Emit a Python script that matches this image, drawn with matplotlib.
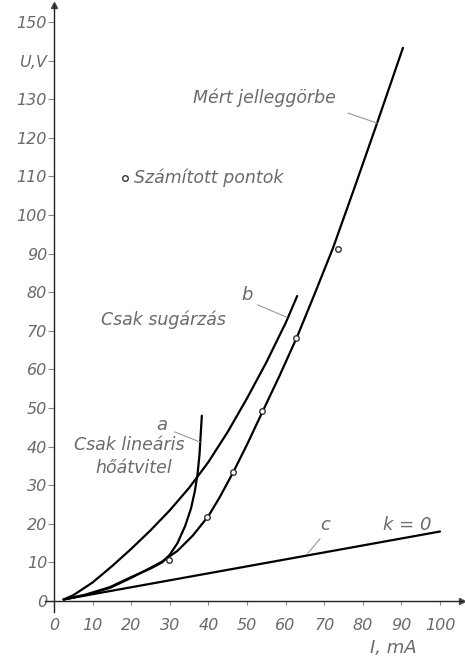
import matplotlib
matplotlib.use("Agg")
import matplotlib.pyplot as plt

# I [mA] / U [V] readings for each curve
meas_i = [2.5, 8, 14.5, 20, 25, 28, 32, 36, 40, 43, 46.5, 50, 54, 58.5, 63, 67.5, 72.3, 78, 83.7, 90.4]
meas_u = [0.4, 1.5, 3.4, 6.0, 8.6, 10.2, 13.0, 17.0, 22.0, 27.0, 33.5, 40.5, 49.0, 58.5, 68.5, 79.5,
          91.5, 107.5, 123.8, 143.3]

rad_i = [2.5, 5, 10, 15, 20, 25, 30, 35, 40, 45, 50, 55, 60, 63]          # b: only radiation
rad_u = [0.4, 1.5, 4.8, 9.0, 13.5, 18.3, 23.5, 29.3, 36.0, 43.8, 52.5, 61.8, 72.0, 79.0]

lin_i = [2.5, 8, 14.5, 20, 25, 28, 30, 32, 34, 35.5, 36.5, 37.2, 37.7, 38.0, 38.3]  # a: only linear transfer
lin_u = [0.4, 1.6, 3.6, 6.2, 8.4, 10.0, 12.0, 15.0, 19.5, 24.0, 28.5, 33.0, 38.0, 43.0, 48.0]

k0_i = [2.5, 100]     # c: k = 0
k0_u = [0.4, 18.0]

calc_i = [29.8, 39.6, 46.4, 53.9, 62.7, 73.6]   # computed points
calc_u = [10.6, 21.8, 33.4, 49.2, 68.1, 91.2]

xticks = list(range(0, 101, 10))
yticks = list(range(0, 151, 10))
ytick_labels = [str(v) if v != 140 else "U,V" for v in yticks]

TXT = "#6a6a6a"
FONT = dict(family="DejaVu Sans", style="italic", color=TXT)

fig = plt.figure(figsize=(4.65, 6.61), dpi=100)
ax = fig.add_axes([45 / 465, 49 / 661, 417 / 465, 607 / 661])
ax.set_xlim(-2.33, 105.7)
ax.set_ylim(-2.85, 154.4)

# axes drawn through the origin, with arrow heads
for side in ("top", "right"):
    ax.spines[side].set_visible(False)
ax.spines["left"].set_position(("data", 0))
ax.spines["bottom"].set_position(("data", 0))
for side in ("left", "bottom"):
    ax.spines[side].set_linewidth(1.0)
    ax.spines[side].set_color("#222222")
ax.plot(1, 0, ">", ms=4, color="#444444", transform=ax.get_yaxis_transform(), clip_on=False)
ax.plot(0, 1, "^", ms=4, color="#444444", transform=ax.get_xaxis_transform(), clip_on=False)

ax.set_xticks(xticks)
ax.set_xticklabels([str(v) for v in xticks], fontsize=11.5, **FONT)
ax.set_yticks(yticks)
ax.set_yticklabels(ytick_labels, fontsize=11.5, **FONT)
ax.tick_params(axis="x", length=3, pad=9, color="#888888")
ax.tick_params(axis="y", length=4, pad=1, color="#888888")

lw = 1.6
for xs, ys in ((meas_i, meas_u), (rad_i, rad_u), (lin_i, lin_u), (k0_i, k0_u)):
    ax.plot(xs, ys, color="black", lw=lw, solid_capstyle="round", solid_joinstyle="round")
ax.plot(calc_i, calc_u, "o", ms=4, mfc="white", mec="#333333", mew=1.0, ls="none", zorder=5)

# legend-style marker for the computed points
ax.plot([18.4], [109.6], "o", ms=4, mfc="white", mec="#333333", mew=1.0)
ax.text(20.8, 109.6, "Számított pontok", ha="left", va="center", fontsize=12.5, **FONT)

# curve labels with leader lines
lead = dict(color="#999999", lw=0.8)
ax.text(36.0, 130.3, "Mért jelleggörbe", ha="left", va="center", fontsize=12.5, **FONT)
ax.plot([76.2, 83.7], [126.4, 123.8], **lead)

ax.text(50.0, 79.3, "b", ha="center", va="center", fontsize=13, **FONT)
ax.plot([52.8, 60.1], [76.7, 73.6], **lead)
ax.text(12.2, 72.8, "Csak sugárzás", ha="left", va="center", fontsize=12.5, **FONT)

ax.text(28.0, 45.6, "a", ha="center", va="center", fontsize=13, **FONT)
ax.plot([31.3, 37.8], [43.8, 41.2], **lead)
ax.text(19.5, 40.4, "Csak lineáris", ha="center", va="center", fontsize=12.5, **FONT)
ax.text(20.7, 34.5, "hőátvitel", ha="center", va="center", fontsize=12.5, **FONT)

ax.text(70.2, 19.7, "c", ha="center", va="center", fontsize=13, **FONT)
ax.plot([68.9, 65.8], [16.1, 12.4], **lead)
ax.text(91.5, 19.7, "k = 0", ha="center", va="center", fontsize=13, **FONT)

ax.text(87.8, -12.2, "I, mA", ha="center", va="center", fontsize=13, clip_on=False, **FONT)

fig.savefig("out.png", dpi=100)
